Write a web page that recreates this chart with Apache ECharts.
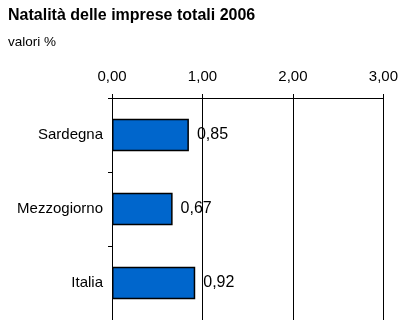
<!DOCTYPE html>
<html><head><meta charset="utf-8">
<script src="https://cdn.jsdelivr.net/npm/echarts@6/dist/echarts.min.js"></script>
<style>html,body{margin:0;padding:0;background:#fff}#c{width:401px;height:320px}</style>
</head><body><div id="c"></div>
<script>
const categories = ['Sardegna', 'Mezzogiorno', 'Italia'];
const values = [0.85, 0.67, 0.92];
const xTicks = [0, 1, 2, 3];
const fmt = v => Number(v).toFixed(2).replace('.', ',');
const chart = echarts.init(document.getElementById('c'), null, {renderer: 'canvas'});
chart.setOption({
  animation: false,
  backgroundColor: '#fff',
  title: [
    {text: 'Natalità delle imprese totali 2006', left: 8, top: 8, padding: 0, textStyle: {fontFamily: 'Liberation Sans', fontSize: 16, fontWeight: 'bold', color: '#000'}},
    {text: 'valori %', left: 8, top: 35, padding: 0, textStyle: {fontFamily: 'Liberation Sans', fontSize: 13.5, fontWeight: 'normal', color: '#000'}}
  ],
  grid: {left: 112, top: 98, width: 272, height: 228, containLabel: false},
  xAxis: {
    type: 'value', position: 'top', min: xTicks[0], max: xTicks[xTicks.length - 1], interval: 1,
    axisLine: {show: true, lineStyle: {color: '#000', width: 1}},
    axisTick: {show: true, length: 4, lineStyle: {color: '#000'}},
    splitLine: {show: true, lineStyle: {color: '#000', width: 1}},
    axisLabel: {formatter: fmt, margin: 14, fontFamily: 'Liberation Sans', fontSize: 15, color: '#000'}
  },
  yAxis: {
    type: 'category', inverse: true, data: categories,
    axisLine: {show: true, lineStyle: {color: '#000', width: 1}},
    axisTick: {show: true, length: 4, lineStyle: {color: '#000'}},
    axisLabel: {margin: 9, fontFamily: 'Liberation Sans', fontSize: 15, color: '#000'}
  },
  series: [{
    type: 'bar', data: values, barCategoryGap: '56%',
    itemStyle: {color: '#0066CC', borderColor: '#000', borderWidth: 1.5},
    label: {show: true, position: 'right', distance: 8, formatter: p => fmt(p.value), fontFamily: 'Liberation Sans', fontSize: 16, color: '#000'}
  }]
});
</script></body></html>
